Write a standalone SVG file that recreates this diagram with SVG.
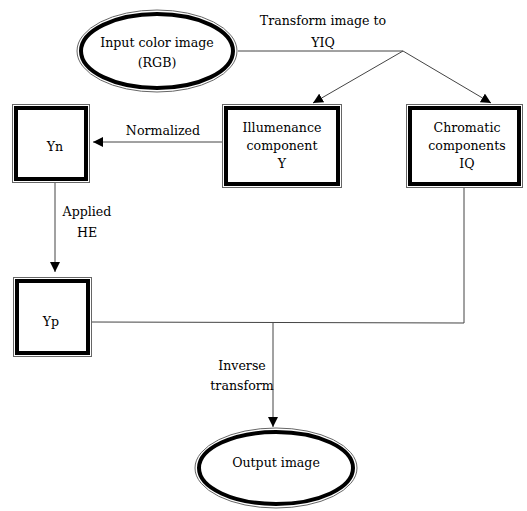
<svg xmlns="http://www.w3.org/2000/svg" width="527" height="511" viewBox="0 0 527 511">
<style>
text{font-family:'DejaVu Serif',serif;font-size:12.6px;fill:#000;text-anchor:middle}
.o{fill:#fff;stroke:#666;stroke-width:1}
.i{fill:none;stroke:#000;stroke-width:4}
.c{fill:none;stroke:#444;stroke-width:1}
</style>
<defs>
<marker id="ah" viewBox="0 0 10 10" refX="10" refY="5" markerWidth="10" markerHeight="10" markerUnits="userSpaceOnUse" orient="auto">
<path d="M0,0 L10,5 L0,10 z" fill="#000"/>
</marker>
</defs>
<g id="connectors">
<path class="c" d="M238,51 L403,51"/>
<path class="c" d="M403,51 L313,103" marker-end="url(#ah)"/>
<path class="c" d="M403,51 L491,103" marker-end="url(#ah)"/>
<path class="c" d="M222,142 L93,142" marker-end="url(#ah)"/>
<path class="c" d="M55,182 L55,272" marker-end="url(#ah)"/>
<path class="c" d="M92,322 L464,323 L464,188"/>
<path class="c" d="M273,323 L273,427" marker-end="url(#ah)"/>
<text x="323" y="25">Transform image to</text>
<text x="323" y="47">YIQ</text>
<text x="163" y="135">Normalized</text>
<text x="87" y="216">Applied</text>
<text x="87" y="237">HE</text>
<text x="242" y="370">Inverse</text>
<text x="242" y="390">transform</text>
</g>
<g id="input">
<ellipse class="o" cx="157" cy="51" rx="80" ry="41"/>
<ellipse class="i" cx="157" cy="51" rx="76" ry="37"/>
<text x="157" y="47">Input color image</text>
<text x="157" y="67">(RGB)</text>
</g>
<g id="yn">
<rect class="o" x="12.5" y="104.5" width="77" height="78"/>
<rect class="i" x="16" y="108" width="70" height="71"/>
<text x="55" y="151">Yn</text>
</g>
<g id="illum">
<rect class="o" x="222.5" y="104.5" width="119" height="83"/>
<rect class="i" x="226" y="108" width="112" height="76"/>
<text x="282" y="132">Illumenance</text>
<text x="282" y="150">component</text>
<text x="282" y="168">Y</text>
</g>
<g id="chrom">
<rect class="o" x="406.5" y="104.5" width="116" height="83"/>
<rect class="i" x="410" y="108" width="109" height="76"/>
<text x="467" y="132">Chromatic</text>
<text x="467" y="150">components</text>
<text x="467" y="168">IQ</text>
</g>
<g id="yp">
<rect class="o" x="13.5" y="277.5" width="78" height="79"/>
<rect class="i" x="17" y="281" width="71" height="72"/>
<text x="51" y="326">Yp</text>
</g>
<g id="output">
<ellipse class="o" cx="276" cy="468" rx="81" ry="40"/>
<ellipse class="i" cx="276" cy="468" rx="77" ry="36"/>
<text x="276" y="467">Output image</text>
</g>
</svg>
